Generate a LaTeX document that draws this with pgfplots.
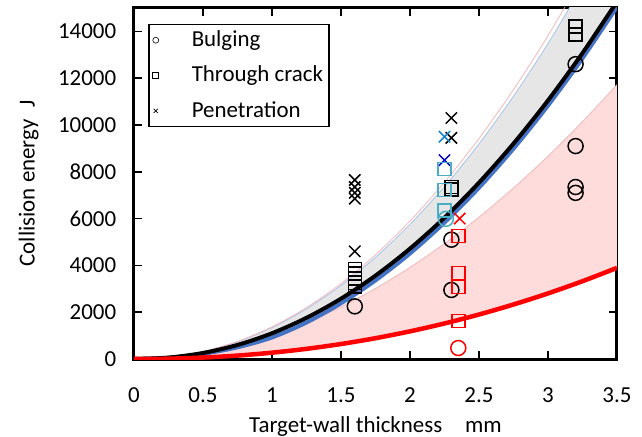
\documentclass[border=0pt]{standalone}
\usepackage{fontspec}
\setmainfont{Carlito}
\usepackage{pgfplots}
\pgfplotsset{compat=1.18}
\definecolor{teal1}{HTML}{4BACC6}
\definecolor{lblue}{HTML}{1A86D0}
\definecolor{dblue}{HTML}{0000CC}
\definecolor{bluel}{HTML}{4472C4}
\definecolor{grayf}{HTML}{E6E6E6}
\definecolor{pinkf}{HTML}{FFDCDC}
\definecolor{pinkl}{HTML}{F4B8B8}
\definecolor{bluelt}{HTML}{A9C4EC}
\begin{document}
\fontsize{23}{27}\selectfont
\begin{tikzpicture}
\begin{axis}[
 at={(0,0)}, anchor=south west,
 scale only axis, width=483bp, height=351bp,
 xmin=0, xmax=3.5, ymin=0, ymax=15000,
 xtick={0,0.5,1,1.5,2,2.5,3,3.5},
 xticklabels={0,0.5,1,1.5,2,2.5,3,3.5},
 ytick={0,2000,4000,6000,8000,10000,12000,14000},
 yticklabels={0,2000,4000,6000,8000,10000,12000,14000},
 tick align=inside, major tick length=8bp,
 tick style={black, line width=1.5bp},
 axis line style={line width=3bp},
 every tick label/.append style={font=\fontsize{23}{27}\selectfont},
 xticklabel style={anchor=north, yshift=-21bp},
 yticklabel style={xshift=-10bp},
 label style={font=\fontsize{23}{27}\selectfont},
 xlabel={Target-wall thickness\hspace{1em}mm},
 ylabel={Collision energy\hspace{0.5em}J},
 xlabel style={at={(axis description cs:0.5,0)}, anchor=north, yshift=-50bp},
 ylabel style={yshift=4bp},
 legend style={at={(0.029,0.955)}, anchor=north west, draw=black, line width=1.5bp,
   font=\fontsize{23}{27}\selectfont, row sep=12bp, column sep=31bp, inner sep=4bp},
 legend cell align=left,
]
% gray band
\addplot[draw=none, fill=grayf, forget plot] coordinates {
 (0,0) (0.25,73) (0.5,314) (0.75,733) (1,1342) (1.25,2145) (1.5,3145) (1.75,4347)
 (2,5754) (2.25,7368) (2.5,9194) (2.75,11230) (3,13481) (3.25,15949) (3.5,18635)
 (3.5,15274) (3.25,13073) (3,11050) (2.75,9205) (2.5,7536) (2.25,6039) (2,4716)
 (1.75,3563) (1.5,2578) (1.25,1758) (1,1100) (0.75,601) (0.5,257) (0.25,60) (0,0)} --cycle;
% pink band
\addplot[draw=none, fill=pinkf, forget plot] coordinates {
 (0,0) (0.25,66) (0.5,259) (0.75,572) (1,1006) (1.25,1558) (1.5,2227) (1.75,3013)
 (2,3914) (2.25,4930) (2.5,6061) (2.75,7306) (3,8665) (3.25,10139) (3.5,11722)
 (3.5,3894) (3.25,3325) (3,2803) (2.75,2329) (2.5,1901) (2.25,1519) (2,1182)
 (1.75,889) (1.5,640) (1.25,434) (1,270) (0.75,146) (0.5,62) (0.25,14) (0,0)} --cycle;
% thin edge lines
\addplot[bluelt, line width=0.8bp, smooth, forget plot] coordinates {
 (0,0) (0.25,73) (0.5,314) (0.75,733) (1,1342) (1.25,2145) (1.5,3145) (1.75,4347)
 (2,5754) (2.25,7368) (2.5,9194) (2.75,11230) (3,13481) (3.25,15949)};
\addplot[pinkl, line width=0.8bp, smooth, forget plot] coordinates {
 (0,0) (0.25,75) (0.5,322) (0.75,751) (1,1375) (1.25,2198) (1.5,3223) (1.75,4455)
 (2,5897) (2.25,7551) (2.5,9423) (2.75,11510) (3,13816) (3.25,16346)};
\addplot[pinkl, line width=0.8bp, smooth, forget plot] coordinates {
 (0,0) (0.25,66) (0.5,259) (0.75,572) (1,1006) (1.25,1558) (1.5,2227) (1.75,3013)
 (2,3914) (2.25,4930) (2.5,6061) (2.75,7306) (3,8665) (3.25,10139) (3.5,11722)};
% main curves
\addplot[bluel, line width=4bp, smooth, forget plot] coordinates {
 (0,0) (0.25,55) (0.5,220) (0.75,500) (1,920) (1.25,1560) (1.5,2380) (1.75,3360)
 (2,4510) (2.25,5830) (2.5,7320) (2.75,8990) (3,10830) (3.25,12850) (3.5,15050)};
\addplot[black, line width=4bp, smooth, forget plot] coordinates {
 (0,0) (0.25,60) (0.5,257) (0.75,601) (1,1100) (1.25,1758) (1.5,2578) (1.75,3563)
 (2,4716) (2.25,6039) (2.5,7536) (2.75,9205) (3,11050) (3.25,13073) (3.5,15274)};
\addplot[red, line width=4.5bp, smooth, forget plot] coordinates {
 (0,0) (0.25,14) (0.5,62) (0.75,146) (1,270) (1.25,434) (1.5,640) (1.75,889)
 (2,1182) (2.25,1519) (2.5,1901) (2.75,2329) (3,2803) (3.25,3325) (3.5,3894)};
% markers
\addplot[only marks, mark=o, mark size=7.5bp, line width=1.5bp, black, forget plot] coordinates {
 (1.6,2250) (2.3,5100) (2.3,2950) (3.2,12600) (3.2,9100) (3.2,7350) (3.2,7100)};
\addplot[only marks, mark=square, mark size=6.5bp, line width=1.5bp, black, forget plot] coordinates {
 (1.6,3100) (1.6,3250) (1.6,3450) (1.6,3650) (1.6,3850) (2.3,7250) (2.3,7350) (3.2,13870) (3.2,14210)};
\addplot[only marks, mark=x, mark size=8bp, line width=1.5bp, black, forget plot] coordinates {
 (1.6,7650) (1.6,7350) (1.6,7100) (1.6,6850) (1.6,4600) (2.3,10300) (2.3,9450)};
\addplot[only marks, mark=x, mark size=8bp, line width=1.5bp, lblue, forget plot] coordinates {(2.25,9500)};
\addplot[only marks, mark=x, mark size=8bp, line width=1.5bp, dblue, forget plot] coordinates {(2.25,8500)};
\addplot[only marks, mark=square, mark size=6.5bp, line width=1.5bp, teal1, forget plot] coordinates {
 (2.25,8130) (2.25,7230) (2.25,6340)};
\addplot[only marks, mark=o, mark size=7.5bp, line width=1.5bp, teal1, forget plot] coordinates {(2.26,5990)};
\addplot[only marks, mark=x, mark size=8bp, line width=1.5bp, red, forget plot] coordinates {(2.36,6000)};
\addplot[only marks, mark=square, mark size=6.5bp, line width=1.5bp, red, forget plot] coordinates {
 (2.35,5265) (2.35,3680) (2.35,3080) (2.35,1630)};
\addplot[only marks, mark=o, mark size=7.5bp, line width=1.5bp, red, forget plot] coordinates {(2.35,470)};
% legend
\addlegendimage{only marks, mark=o, mark size=3bp, line width=0.6bp, black}
\addlegendentry{Bulging}
\addlegendimage{only marks, mark=square, mark size=3bp, line width=0.6bp, black}
\addlegendentry{Through crack}
\addlegendimage{only marks, mark=x, mark size=3bp, line width=0.6bp, black}
\addlegendentry{Penetration}
\end{axis}
\pgfresetboundingbox
\path (-134bp,-78bp) rectangle (508bp,359bp);
\end{tikzpicture}
\end{document}
